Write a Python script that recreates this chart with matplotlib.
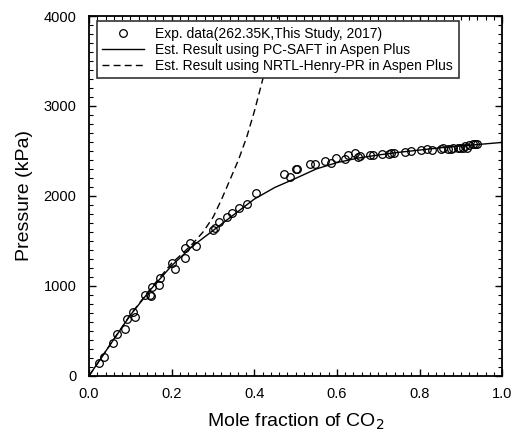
import numpy as np
import matplotlib
matplotlib.use("Agg")
import matplotlib.pyplot as plt
from matplotlib.ticker import MultipleLocator

exp_x = [0.023, 0.036, 0.057, 0.067, 0.086, 0.091, 0.106, 0.111, 0.136, 0.147,
         0.149, 0.153, 0.169, 0.172, 0.200, 0.207, 0.231, 0.232, 0.245, 0.259,
         0.301, 0.305, 0.315, 0.333, 0.345, 0.364, 0.382, 0.404, 0.471, 0.487,
         0.500, 0.503, 0.535, 0.547, 0.571, 0.585, 0.598, 0.620, 0.626, 0.645,
         0.650, 0.656, 0.679, 0.687, 0.709, 0.725, 0.730, 0.739, 0.765, 0.779,
         0.803, 0.819, 0.830, 0.852, 0.858, 0.870, 0.876, 0.882, 0.892, 0.898,
         0.906, 0.910, 0.916, 0.921, 0.929, 0.935, 0.939]
exp_p = [148, 215, 370, 470, 519, 630, 711, 659, 904, 896,
         885, 993, 1015, 1093, 1259, 1185, 1426, 1315, 1481, 1444,
         1622, 1648, 1711, 1770, 1815, 1870, 1907, 2037, 2241, 2211,
         2296, 2296, 2352, 2352, 2389, 2363, 2426, 2415, 2456, 2474,
         2433, 2444, 2452, 2452, 2470, 2467, 2481, 2481, 2489, 2496,
         2507, 2526, 2511, 2518, 2530, 2526, 2518, 2533, 2533, 2530,
         2533, 2556, 2537, 2563, 2574, 2581, 2581]

# PC-SAFT estimate
saft_x = [0.0, 0.05, 0.10, 0.15, 0.20, 0.25, 0.30, 0.35, 0.40, 0.45, 0.50,
          0.55, 0.60, 0.65, 0.70, 0.75, 0.80, 0.85, 0.90, 0.95, 1.0]
saft_p = [0, 340, 675, 965, 1225, 1440, 1615, 1790, 1965, 2095, 2195,
          2300, 2370, 2420, 2455, 2485, 2510, 2535, 2555, 2575, 2595]

# NRTL-Henry-PR estimate
nrtl_x = [0.0, 0.05, 0.10, 0.15, 0.20, 0.225, 0.253, 0.277, 0.301, 0.321,
          0.341, 0.362, 0.382, 0.401, 0.420, 0.44, 0.46]
nrtl_p = [0, 340, 680, 975, 1252, 1355, 1480, 1605, 1770, 1965,
          2178, 2405, 2659, 2955, 3289, 3650, 4050]

plt.rcParams['font.family'] = ['Liberation Sans', 'DejaVu Sans']

fig = plt.figure(figsize=(5.15, 4.33), dpi=100)
ax = fig.add_axes([0.173, 0.132, 0.802, 0.831])

ax.plot(exp_x, exp_p, 'o', mfc='none', mec='black', ms=5.5, mew=0.9,
        label='Exp. data(262.35K,This Study, 2017)', zorder=3)
ax.plot(saft_x, saft_p, '-', color='black', lw=1.0,
        label='Est. Result using PC-SAFT in Aspen Plus')
ax.plot(nrtl_x, nrtl_p, '--', color='black', lw=1.0, dashes=(5, 3),
        label='Est. Result using NRTL-Henry-PR in Aspen Plus')

ax.set_xlim(0, 1.0)
ax.set_ylim(0, 4000)
ax.xaxis.set_major_locator(MultipleLocator(0.2))
ax.xaxis.set_minor_locator(MultipleLocator(0.02))
ax.yaxis.set_major_locator(MultipleLocator(1000))
ax.yaxis.set_minor_locator(MultipleLocator(100))
ax.xaxis.set_major_formatter(plt.FuncFormatter(lambda v, p: f"{v:.1f}"))
ax.tick_params(which='both', direction='in', top=True, right=True, labelsize=10.5)
ax.tick_params(which='major', length=5, width=1)
ax.tick_params(which='minor', length=3, width=0.8)
ax.tick_params(axis='x', pad=8)
ax.tick_params(axis='y', pad=9)
for s in ax.spines.values():
    s.set_linewidth(1.3)

ax.set_xlabel('Mole fraction of CO$_2$', fontsize=14, labelpad=8)
ax.set_ylabel('Pressure (kPa)', fontsize=14, labelpad=8)

leg = ax.legend(loc='upper left', bbox_to_anchor=(0.019, 0.986), borderaxespad=0,
                fontsize=10, handlelength=3.0, handletextpad=0.8,
                labelspacing=0.15, borderpad=0.4, fancybox=False, framealpha=1)
leg.get_frame().set_edgecolor('#333333')
leg.get_frame().set_linewidth(1.2)

fig.savefig('out.png', dpi=100)
